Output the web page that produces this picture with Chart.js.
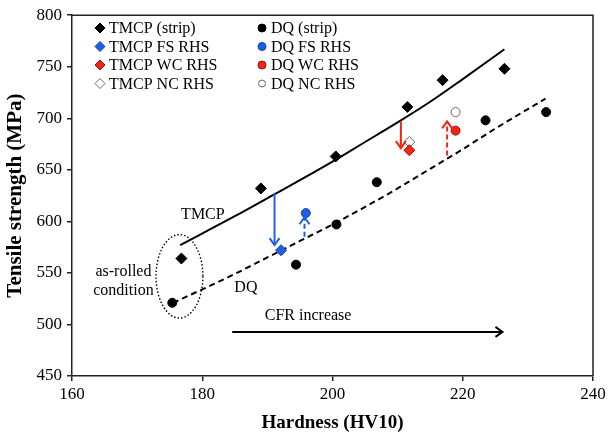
<!DOCTYPE html>
<html><head><meta charset="utf-8">
<script src="https://cdn.jsdelivr.net/npm/chart.js@4.4.1/dist/chart.umd.min.js"></script>
<style>html,body{margin:0;padding:0;background:#fff}</style>
</head><body>
<canvas id="c" width="610" height="439"></canvas>
<script>
// ---- data ----
const xTicks = [160, 180, 200, 220, 240];
const yTicks = [450, 500, 550, 600, 650, 700, 750, 800];

const tmcpStripX = [176.8, 189.0, 200.5, 211.5, 216.9, 226.4];
const tmcpStripY = [564, 632, 663, 711, 737, 748];
const dqStripX = [175.4, 194.4, 200.6, 206.8, 223.5, 232.8];
const dqStripY = [521, 558, 597, 638, 698, 706];
const tmcpFsX = [192.1], tmcpFsY = [572];
const dqFsX = [195.9], dqFsY = [608];
const tmcpWcX = [211.8], tmcpWcY = [669];
const tmcpNcX = [211.8], tmcpNcY = [677];
const dqWcX = [218.9], dqWcY = [688];
const dqNcX = [218.9], dqNcY = [706];

const tmcpFitX = [176.6, 185, 191, 195, 200, 205, 210, 215, 220, 226.4];
const tmcpFitY = [577, 605, 626, 640, 658, 677, 696, 716, 738, 767];
const dqFitX = [175.5, 180, 185, 190, 195, 200, 205, 210, 215, 220, 225, 232.7];
const dqFitY = [521, 534, 549, 565, 581, 597, 614, 632, 651, 670, 690, 719];

// arrows: [x, yFrom, yTo]
const blueSolidArrow = [191.1, 627, 577];
const blueDashArrow = [195.7, 585, 604];
const redSolidArrow = [210.5, 697, 671];
const redDashArrow = [217.6, 664, 697];
const cfrArrow = [184.6, 226.1, 492.8]; // xFrom, xTo, y
const asRolledEllipse = [176.5, 546.7, 3.6, 40.5]; // cx, cy, rx, ry (data units)

const seriesNames = ['TMCP (strip)', 'DQ (strip)', 'TMCP FS RHS', 'DQ FS RHS', 'TMCP WC RHS', 'DQ WC RHS', 'TMCP NC RHS', 'DQ NC RHS'];
const textLabels = [
  ['TMCP', 180.1, 606.5, 'center'],
  ['DQ', 186.7, 536, 'center'],
  ['as-rolled', 167.9, 551.5, 'center'],
  ['condition', 167.9, 533, 'center'],
  ['CFR increase', 189.6, 508, 'left']
];

const BLUE = '#1f5fe8', RED = '#f02614';
const pts = (xs, ys) => xs.map((x, i) => ({x, y: ys[i]}));

function mk(label, xs, ys, style, fill, stroke, r) {
  return {label, data: pts(xs, ys), pointStyle: style, pointRadius: r, pointHoverRadius: r,
    backgroundColor: fill, borderColor: stroke, pointBorderWidth: 1, showLine: false, order: 0};
}

const datasets = [
  mk(seriesNames[0], tmcpStripX, tmcpStripY, 'rectRot', '#000', '#000', 5.5),
  mk(seriesNames[1], dqStripX, dqStripY, 'circle', '#000', '#000', 4.5),
  mk(seriesNames[2], tmcpFsX, tmcpFsY, 'rectRot', BLUE, '#1040a0', 5.5),
  mk(seriesNames[3], dqFsX, dqFsY, 'circle', BLUE, '#1040a0', 4.5),
  mk(seriesNames[4], tmcpWcX, tmcpWcY, 'rectRot', RED, '#a01008', 5.5),
  mk(seriesNames[5], dqWcX, dqWcY, 'circle', RED, '#a01008', 4.5),
  mk(seriesNames[6], tmcpNcX, tmcpNcY, 'rectRot', '#fff', '#666', 5.5),
  mk(seriesNames[7], dqNcX, dqNcY, 'circle', '#fff', '#666', 4.5),
  {label: 'TMCP fit', data: pts(tmcpFitX, tmcpFitY), showLine: true, pointRadius: 0, borderColor: '#000',
   borderWidth: 2, tension: 0.4, cubicInterpolationMode: 'monotone', fill: false, order: 1},
  {label: 'DQ fit', data: pts(dqFitX, dqFitY), showLine: true, pointRadius: 0, borderColor: '#000',
   borderWidth: 2, borderDash: [6, 4], tension: 0.4, cubicInterpolationMode: 'monotone', fill: false, order: 1}
];

function arrowV(ctx, x, y1, y2, color, dash) {
  ctx.save();
  ctx.strokeStyle = color; ctx.lineWidth = 2;
  ctx.setLineDash(dash ? [5, 3] : []);
  ctx.beginPath(); ctx.moveTo(x, y1); ctx.lineTo(x, y2); ctx.stroke();
  ctx.setLineDash([]);
  const d = y2 > y1 ? 1 : -1;
  ctx.beginPath(); ctx.moveTo(x - 5, y2 - d * 7); ctx.lineTo(x, y2); ctx.lineTo(x + 5, y2 - d * 7); ctx.stroke();
  ctx.restore();
}

const annot = {
  id: 'annot',
  afterDatasetsDraw(chart) {
    const {ctx, chartArea: a, scales: {x, y}} = chart;
    ctx.save();
    // frame top/right
    ctx.strokeStyle = '#222'; ctx.lineWidth = 1.5;
    ctx.beginPath(); ctx.moveTo(a.left, a.top); ctx.lineTo(a.right, a.top); ctx.lineTo(a.right, a.bottom); ctx.stroke();
    // ellipse
    const [ecx, ecy, erx, ery] = asRolledEllipse;
    const cx = x.getPixelForValue(ecx), cy = y.getPixelForValue(ecy);
    const rx = x.getPixelForValue(ecx + erx) - cx, ry = cy - y.getPixelForValue(ecy + ery);
    ctx.strokeStyle = '#000'; ctx.lineWidth = 1.4; ctx.setLineDash([1.5, 2]);
    ctx.beginPath(); ctx.ellipse(cx, cy, rx, ry, 0, 0, Math.PI * 2); ctx.stroke();
    ctx.setLineDash([]);
    // arrows
    const av = (arr, c, d) => arrowV(ctx, x.getPixelForValue(arr[0]), y.getPixelForValue(arr[1]), y.getPixelForValue(arr[2]), c, d);
    av(blueSolidArrow, BLUE, false);
    av(blueDashArrow, BLUE, true);
    av(redSolidArrow, RED, false);
    av(redDashArrow, RED, true);
    // CFR arrow
    const x1 = x.getPixelForValue(cfrArrow[0]), x2 = x.getPixelForValue(cfrArrow[1]), yy = y.getPixelForValue(cfrArrow[2]);
    ctx.strokeStyle = '#000'; ctx.lineWidth = 2;
    ctx.beginPath(); ctx.moveTo(x1, yy); ctx.lineTo(x2, yy); ctx.stroke();
    ctx.beginPath(); ctx.moveTo(x2 - 7, yy - 5); ctx.lineTo(x2, yy); ctx.lineTo(x2 - 7, yy + 5); ctx.stroke();
    // text labels
    ctx.fillStyle = '#000'; ctx.font = '16px "Liberation Serif", "Times New Roman", serif';
    ctx.textBaseline = 'middle';
    textLabels.forEach(([t, tx, ty, al]) => {
      ctx.textAlign = al;
      ctx.fillText(t, x.getPixelForValue(tx), y.getPixelForValue(ty));
    });
    // legend (two columns)
    const colMarker = [100, 262], colText = [109, 271], rows = [28, 46.5, 65, 83.5];
    ctx.textAlign = 'left';
    datasets.slice(0, 8).forEach((ds, i) => {
      const col = i % 2, row = Math.floor(i / 2);
      const mx = colMarker[col], my = rows[row];
      ctx.fillStyle = ds.backgroundColor; ctx.strokeStyle = ds.borderColor; ctx.lineWidth = 1;
      ctx.beginPath();
      if (ds.pointStyle === 'rectRot') {
        const r = 5;
        ctx.moveTo(mx - r, my); ctx.lineTo(mx, my - r); ctx.lineTo(mx + r, my); ctx.lineTo(mx, my + r); ctx.closePath();
      } else {
        ctx.arc(mx, my, i === 7 ? 3.5 : 4, 0, Math.PI * 2);
      }
      ctx.fill(); ctx.stroke();
      ctx.fillStyle = '#000';
      ctx.fillText(ds.label, colText[col], my + 1);
    });
    ctx.restore();
  }
};

const serif = '"Liberation Serif", "Times New Roman", serif';
new Chart(document.getElementById('c'), {
  type: 'scatter',
  data: {datasets},
  options: {
    responsive: false, animation: false, devicePixelRatio: 1,
    layout: {padding: {top: 13, right: 17, left: 0, bottom: 0}},
    plugins: {legend: {display: false}, tooltip: {enabled: false}},
    scales: {
      x: {
        type: 'linear', min: 160, max: 240,
        afterBuildTicks: ax => { ax.ticks = xTicks.map(v => ({value: v})); },
        afterFit: ax => { ax.height = 63; },
        grid: {display: true, drawOnChartArea: false, drawTicks: true, tickLength: 5, color: '#222', lineWidth: 1.5},
        border: {display: true, color: '#222', width: 1.5},
        ticks: {color: '#000', font: {family: serif, size: 17}, padding: 3, maxRotation: 0},
        title: {display: true, text: 'Hardness (HV10)', color: '#000', font: {family: serif, size: 19, weight: 'bold'}, padding: {top: 0, bottom: 5}}
      },
      y: {
        type: 'linear', min: 450, max: 800,
        afterBuildTicks: ax => { ax.ticks = yTicks.map(v => ({value: v})); },
        afterFit: ax => { ax.width = 72; },
        grid: {display: true, drawOnChartArea: false, drawTicks: true, tickLength: 5, color: '#222', lineWidth: 1.5},
        border: {display: true, color: '#222', width: 1.5},
        ticks: {color: '#000', font: {family: serif, size: 17}, padding: 5},
        title: {display: true, text: 'Tensile strength (MPa)', color: '#000', font: {family: serif, size: 21, weight: 'bold'}, padding: {top: 3, bottom: 0}}
      }
    }
  },
  plugins: [annot]
});
</script>
</body></html>
